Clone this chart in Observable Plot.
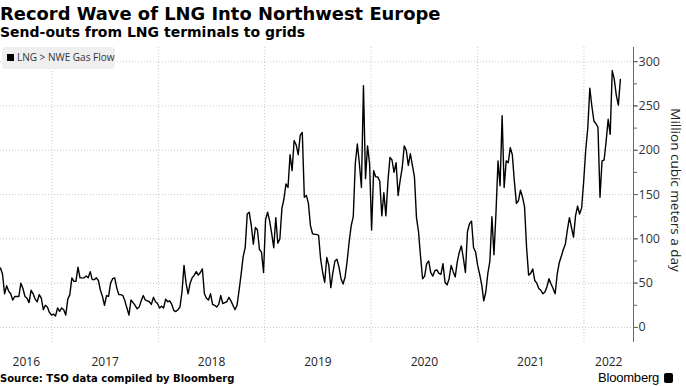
<!DOCTYPE html>
<html><head><meta charset="utf-8">
<script src="https://cdn.jsdelivr.net/npm/d3@7"></script>
<script src="https://cdn.jsdelivr.net/npm/@observablehq/plot@0.6"></script>
<style>
body{margin:0;background:#fff;}
#wrap{position:relative;width:686px;height:386px;overflow:hidden;background:#fff;font-family:"Open Sans",sans-serif;}
#title{position:absolute;left:0;top:3px;font:bold 17.9px "DejaVu Sans";color:#000;white-space:nowrap;}
#subtitle{position:absolute;left:0;top:24px;font:bold 14px "DejaVu Sans";color:#000;white-space:nowrap;}
#chart{position:absolute;left:0;top:40px;}
#legend{position:absolute;left:2px;top:47px;width:113px;height:22px;background:#efefef;border-radius:3px;z-index:2;}
#legend .sw{position:absolute;left:5px;top:7px;width:7px;height:7px;background:#000;}
#legend .tx{position:absolute;left:15px;top:3px;font:10px "Open Sans";color:#333;white-space:nowrap;}
#source{position:absolute;left:0;top:373px;font:bold 10px "DejaVu Sans";color:#000;white-space:nowrap;}
#brand{position:absolute;left:598px;top:370px;font:500 13px "Liberation Sans";color:#000;white-space:nowrap;letter-spacing:-0.2px;}
#logo{position:absolute;left:664px;top:373px;width:9px;height:10px;background:#000;border-radius:2px;}
</style>
</head><body>
<div id="wrap">
  <div id="title">Record Wave of LNG Into Northwest Europe</div>
  <div id="subtitle">Send-outs from LNG terminals to grids</div>
  <div id="legend"><div class="sw"></div><div class="tx">LNG &gt; NWE Gas Flow</div></div>
  <div id="chart"></div>
  <div id="source">Source: TSO data compiled by Bloomberg</div>
  <div id="brand">Bloomberg</div>
  <div id="logo"></div>
</div>
<script>
// Weekly LNG send-outs into NW Europe (million cubic meters a day), first week 2016-07-08
const seriesStart = "2016-07-08";
const axisEnd = "2022-06-20";
const flow2016 = [67, 60, 38, 47, 41, 38, 31, 35, 35, 35, 50, 44, 35, 33, 28, 42, 38, 32, 29, 37, 33, 20, 25, 23, 17, 14];
const flow2017 = [15, 13, 22, 18, 22, 20, 14, 32, 37, 56, 52, 52, 68, 56, 56, 56, 58, 56, 63, 54,
  54, 56, 53, 42, 35, 25, 36, 35, 50, 55, 56, 45, 37, 37, 36, 30, 22, 14, 31, 28,
  25, 21, 23, 30, 36, 31, 30, 29, 26, 34, 29, 27];
const flow2018 = [22, 24, 22, 32, 29, 30, 26, 19, 18, 20, 23, 40, 70, 50, 38, 50, 56, 59, 63, 59,
  62, 66, 38, 33, 31, 38, 26, 25, 23, 26, 36, 27, 28, 29, 34, 30, 25, 20, 25, 42,
  60, 80, 90, 128, 130, 115, 94, 113, 110, 88, 85, 62];
const flow2019 = [122, 130, 120, 106, 90, 124, 95, 100, 134, 145, 162, 158, 195, 177, 211, 206, 195, 217, 220, 147,
  149, 140, 115, 106, 105, 105, 104, 77, 62, 51, 79, 70, 45, 62, 75, 77, 68, 55, 49, 57,
  75, 97, 115, 125, 185, 207, 185, 158, 273, 168, 205, 185];
const flow2020 = [110, 177, 170, 170, 165, 126, 152, 126, 165, 192, 189, 175, 186, 149, 166, 180, 205, 200, 183, 196,
  183, 170, 124, 108, 80, 55, 58, 72, 75, 62, 58, 64, 65, 61, 60, 72, 51, 48, 55, 70,
  63, 57, 74, 85, 92, 78, 62, 108, 117, 120, 90, 85];
const flow2021 = [70, 60, 48, 30, 40, 61, 75, 125, 82, 130, 188, 160, 239, 158, 188, 186, 203, 195, 165, 140,
  143, 155, 147, 136, 90, 59, 61, 66, 53, 50, 44, 42, 38, 40, 46, 55, 49, 44, 38, 60,
  73, 80, 88, 94, 110, 124, 113, 102, 126, 137, 128, 135, 165];
const flow2022 = [200, 225, 270, 250, 233, 230, 226, 147, 188, 189, 210, 235, 218, 290, 280, 262, 251, 280];
const yTicks = [0, 50, 100, 150, 200, 250, 300];
const yMinorTicks = [0, 25, 50, 75, 100, 125, 150, 175, 200, 225, 250, 275, 300];
const yearLabels = [2016, 2017, 2018, 2019, 2020, 2021, 2022];
const yLabel = "Million cubic meters a day";

const values = [...flow2016, ...flow2017, ...flow2018, ...flow2019, ...flow2020, ...flow2021, ...flow2022];
const start = new Date(seriesStart + "T00:00:00Z");
const end = new Date(axisEnd + "T00:00:00Z");
const data = values.map((v, i) => ({date: d3.utcDay.offset(start, 7 * i), value: v}));

const yearStarts = yearLabels.slice(1).map(y => new Date(Date.UTC(y, 0, 1)));
const labelDates = yearLabels.map(y => {
  const a = Math.max(+start, Date.UTC(y, 0, 1));
  const b = Math.min(+end, Date.UTC(y + 1, 0, 1));
  return new Date((a + b) / 2);
});

const chart = Plot.plot({
  width: 686,
  height: 330,
  marginTop: 7,
  marginBottom: 28,
  marginLeft: 0,
  marginRight: 53,
  style: {fontFamily: "Open Sans", fontSize: "12px", background: "#fff", color: "#333"},
  x: {type: "utc", domain: [start, end]},
  y: {domain: [-17, 316]},
  marks: [
    Plot.gridY(yTicks, {stroke: "#c8c8c8", strokeOpacity: 1, strokeDasharray: "1,2"}),
    Plot.gridX(yearStarts, {stroke: "#c8c8c8", strokeOpacity: 1, strokeDasharray: "1,2"}),
    Plot.lineY(data, {x: "date", y: "value", stroke: "#000", strokeWidth: 1.4}),
    Plot.ruleX([end], {stroke: "#666", strokeWidth: 1}),
    Plot.axisY(yMinorTicks, {anchor: "right", tickSize: 3, tickFormat: () => "", stroke: "#666", label: null}),
    Plot.axisY(yTicks, {anchor: "right", tickSize: 4, tickPadding: 1, fontSize: 12.5, stroke: "#666", fill: "#333", label: null}),
    Plot.axisX(labelDates, {tickSize: 0, tickPadding: 15, tickFormat: d3.utcFormat("%Y"), fontSize: 12, fill: "#222", label: null}),
    Plot.text([yLabel], {text: d => d, frameAnchor: "right", textAnchor: "middle", lineAnchor: "middle", rotate: 90, dx: 42, dy: -5, fontSize: 13.5, fill: "#222"})
  ]
});
document.getElementById("chart").appendChild(chart);
</script>
</body></html>
